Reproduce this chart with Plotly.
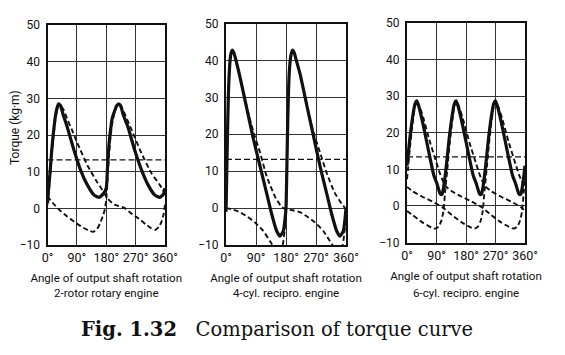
import plotly.graph_objects as go
from plotly.subplots import make_subplots

# ---------------- data ----------------
ANGLE_TICKS = [0, 90, 180, 270, 360]
ANGLE_LABELS = ["0°", "90°", "180°", "270°", "360°"]
TORQUE_TICKS = [-10, 0, 10, 20, 30, 40, 50]
TORQUE_LABELS = ["−10", "0", "10", "20", "30", "40", "50"]
MEAN_TORQUE = [13.2, 13.2, 13.4]
ENGINE_NAMES = ["2-rotor rotary engine", "4-cyl. recipro. engine", "6-cyl. recipro. engine"]

# 2-rotor rotary engine
ROT_TOTAL_DEG = [0, 3, 8, 13, 18, 24, 29, 34, 40, 48, 60, 81, 101, 122, 143, 158, 172, 180,
                 184, 188, 192, 198, 205, 212, 218, 224, 232, 246, 267, 288, 308, 329, 344, 355, 360]
ROT_TOTAL_TQ = [1.5, 5, 10, 15.9, 20.5, 25, 27.3, 28.5, 28, 25.5, 22.3, 15.9, 10.5, 6.4, 3.6, 3.0, 4.1, 5.5,
                11.4, 17, 20.5, 24.5, 26.4, 28, 28.5, 28, 25.5, 22.3, 15.9, 10.5, 6.4, 3.6, 3.0, 3.8, 5.5]
ROT_R1_DEG = [0, 3, 8, 13, 18, 24, 29, 34, 40, 50, 62, 75, 88, 101, 122, 148, 168, 184, 205,
              234, 260, 286, 300, 317, 330, 342, 350, 356, 360]
ROT_R1_TQ = [1, 3.5, 9, 14.5, 19.5, 24, 26.8, 28.2, 28, 26.8, 24, 21.4, 18.5, 15.9, 11.8, 7.7, 5, 2.7, 1.0,
             0.2, -1.6, -3.2, -4.3, -5.4, -5.9, -5.0, -3.5, -1.5, 1]
ROT_R2_DEG = [0, 15, 37, 60, 89, 110, 130, 140, 152, 161, 170, 175, 180, 184, 188, 192, 198, 205,
              212, 218, 226, 236, 250, 262, 288, 319, 344, 360]
ROT_R2_TQ = [3.3, 1.6, -0.5, -2.2, -4.1, -5.3, -6.2, -6.4, -5.6, -4.1, -2.0, -0.5, 2.3, 8, 14, 18.5, 23, 26,
             27.8, 28.2, 27.8, 25.9, 23, 20.5, 15, 9.5, 6.4, 4.1]

# 4-cyl. reciprocating engine
REC4_TOTAL_DEG = [0, 2, 4, 7, 10, 14, 19, 24, 30, 42, 62, 82, 102, 122, 137, 152, 162, 172, 177, 180,
                  182, 184, 187, 190, 195, 200, 205, 211, 222, 242, 262, 282, 302, 317, 332, 342, 352, 357, 360]
REC4_TOTAL_TQ = [-1, 8, 18, 30, 37, 41.5, 42.8, 42, 40, 35.5, 27.1, 18.8, 11.4, 4.0, -1.6, -6.2, -7.6, -6.2, -3, 0,
                 8, 18, 30, 37, 41.5, 42.8, 42, 40, 36.4, 28, 19.7, 11.4, 4.0, -1.6, -6.2, -7.6, -6.2, -3, 0]
REC4_A_DEG = [0, 2, 4, 7, 10, 14, 19, 24, 30, 42, 62, 82, 102, 122, 147, 167, 180, 200, 222, 245,
              267, 292, 312, 327, 340, 350, 356, 360]
REC4_A_TQ = [-1, 8, 18, 30, 37, 41.5, 42.8, 42, 40, 35.5, 27.5, 20.7, 15.1, 8.6, 3.1, 0.3, -0.3, -0.6, -1.1, -2.4,
             -3.9, -6.2, -9, -11, -12, -10, -6, -1]
REC4_B_DEG = [0, 20, 42, 65, 87, 112, 132, 147, 160, 170, 176, 180, 182, 184, 187, 190, 195, 200, 205,
              211, 222, 242, 262, 282, 302, 327, 347, 360]
REC4_B_TQ = [0, -0.4, -1.1, -2.4, -3.9, -6.2, -9, -11, -12, -10, -6, -1, 8, 18, 30, 37, 41.5, 42.8, 42,
             40, 36.4, 28, 20.7, 15.1, 9.5, 4.0, 1.2, -0.3]

# 6-cyl. reciprocating engine
REC6_TOTAL_DEG = [0, 3, 9, 17, 24, 30, 37, 50, 70, 82, 91, 97, 102, 107, 111, 117,
                  120, 123, 129, 137, 144, 150, 157, 170, 190, 202, 211, 217, 222, 227, 231, 237,
                  240, 243, 249, 257, 264, 270, 277, 290, 310, 322, 331, 337, 342, 347, 351, 357, 360]
REC6_TOTAL_TQ = [11, 13.5, 18.7, 24.2, 27.8, 28.7, 26.9, 21.9, 13.2, 8.3, 6.2, 4.4, 3.2, 3.2, 4.7, 8.6,
                 11, 13.5, 18.7, 24.2, 27.8, 28.7, 26.9, 21.9, 13.2, 8.3, 6.2, 4.4, 3.2, 3.2, 4.7, 8.6,
                 11, 13.5, 18.7, 24.2, 27.8, 28.7, 26.9, 21.9, 13.2, 8.3, 6.2, 4.4, 3.2, 3.2, 4.7, 8.6, 11]
REC6_C1_DEG = [0, 3, 9, 17, 24, 30, 37, 50, 70, 91, 102, 117, 137, 167, 197, 227, 257, 287, 317, 326,
               337, 345, 351, 357, 360]
REC6_C1_TQ = [7.3, 10, 16, 22.5, 27, 28.7, 27.5, 24, 17.5, 11.5, 8.5, 5.5, 4, 2.5, 1.2, -0.3, -2.5, -4.5, -6, -6.2,
              -5.6, -4.0, -1.5, 4.6, 7.3]
REC6_C2_DEG = [0, 17, 47, 77, 86, 97, 105, 111, 117, 123, 129, 137, 144, 150, 157, 170, 190, 211, 222,
               237, 257, 287, 317, 347, 360]
REC6_C2_TQ = [-1.4, -2.5, -4.5, -6, -6.2, -5.6, -4.0, -1.5, 4.6, 10, 16, 22.5, 27, 28.7, 27.5, 24, 17.5, 11.5, 8.5,
              5.5, 4, 2.5, 1.2, -0.3, -1.4]
REC6_C3_DEG = [0, 17, 47, 77, 107, 137, 167, 197, 206, 217, 225, 231, 237, 243, 249, 257, 264, 270, 277,
               290, 310, 331, 342, 357, 360]
REC6_C3_TQ = [5.2, 4, 2.5, 1.2, -0.3, -2.5, -4.5, -6, -6.2, -5.6, -4.0, -1.5, 4.6, 10, 16, 22.5, 27, 28.7, 27.5,
              24, 17.5, 11.5, 8.5, 5.5, 5.2]

PANELS = [
    dict(total=(ROT_TOTAL_DEG, ROT_TOTAL_TQ),
         parts=[(ROT_R1_DEG, ROT_R1_TQ), (ROT_R2_DEG, ROT_R2_TQ)]),
    dict(total=(REC4_TOTAL_DEG, REC4_TOTAL_TQ),
         parts=[(REC4_A_DEG, REC4_A_TQ), (REC4_B_DEG, REC4_B_TQ)]),
    dict(total=(REC6_TOTAL_DEG, REC6_TOTAL_TQ),
         parts=[(REC6_C1_DEG, REC6_C1_TQ), (REC6_C2_DEG, REC6_C2_TQ), (REC6_C3_DEG, REC6_C3_TQ)]),
]

# ---------------- layout / style ----------------
W, H = 565, 355
INK = "#111111"
NARROW = "Roboto, Liberation Sans, sans-serif"
X_DOMAINS_PX = [(47.5, 165), (226, 346), (407, 525)]
Y_DOMAINS_PX = [(25, 245), (23.5, 245), (23, 242.5)]
ENGINE_LABEL_Y_PX = 293

fig = make_subplots(rows=1, cols=3)

for i, p in enumerate(PANELS):
    r, c = 1, i + 1
    for deg, tq in p["parts"]:
        fig.add_trace(go.Scatter(x=deg, y=tq, mode="lines", showlegend=False, hoverinfo="skip",
                                 line=dict(color=INK, width=1.9, dash="5px,3px",
                                           shape="spline", smoothing=0.5)), row=r, col=c)
    deg, tq = p["total"]
    fig.add_trace(go.Scatter(x=deg, y=tq, mode="lines", showlegend=False, hoverinfo="skip",
                             line=dict(color=INK, width=3.2, shape="spline", smoothing=0.5)),
                  row=r, col=c)
    fig.add_hline(y=MEAN_TORQUE[i], line=dict(color=INK, width=1.2, dash="6px,3px"), row=r, col=c)

    x0, x1 = X_DOMAINS_PX[i]
    yt, yb = Y_DOMAINS_PX[i]
    fig.update_xaxes(domain=[x0 / W, x1 / W], range=[0, 360], tickvals=ANGLE_TICKS, ticktext=ANGLE_LABELS,
                     tickangle=0, showgrid=True, gridcolor="#333333", gridwidth=1, zeroline=False,
                     showline=True, linecolor=INK, linewidth=2, mirror=True, ticks="", ticklen=0,
                     automargin=False,
                     tickfont=dict(family=NARROW, size=12.5, color=INK),
                     title=dict(text="Angle of output shaft rotation",
                                font=dict(family=NARROW, size=11.6, color=INK), standoff=10),
                     fixedrange=True, row=r, col=c)
    fig.update_yaxes(domain=[1 - yb / H, 1 - yt / H], range=[-10, 50], tickvals=TORQUE_TICKS,
                     ticktext=TORQUE_LABELS, showgrid=True, gridcolor="#333333", gridwidth=1,
                     zeroline=False, showline=True, linecolor=INK, linewidth=2, mirror=True, ticks="",
                     ticklen=0, ticklabelstandoff=3, automargin=False,
                     tickfont=dict(family=NARROW, size=12, color=INK), fixedrange=True, row=r, col=c)
    fig.add_annotation(text=ENGINE_NAMES[i], xref="paper", yref="paper",
                       x=(x0 + x1) / 2 / W, y=1 - ENGINE_LABEL_Y_PX / H,
                       xanchor="center", yanchor="middle", showarrow=False,
                       font=dict(family=NARROW, size=11.6, color=INK))

fig.add_annotation(text="Torque (kg·m)", textangle=-90, xref="paper", yref="paper",
                   x=15 / W, y=1 - 128 / H, xanchor="center", yanchor="middle", showarrow=False,
                   font=dict(family=NARROW, size=12, color=INK))

fig.add_annotation(text="<b>Fig. 1.32</b>&nbsp;&nbsp;&nbsp;Comparison of torque curve",
                   xref="paper", yref="paper",
                   x=277 / W, y=1 - 329 / H, xanchor="center", yanchor="middle", showarrow=False,
                   font=dict(family="DejaVu Serif, Liberation Serif, serif", size=19.5, color=INK))

fig.update_layout(width=W, height=H, margin=dict(l=0, r=0, t=0, b=0, autoexpand=False), autosize=False,
                  paper_bgcolor="white", plot_bgcolor="white", showlegend=False)

fig.write_html("out.html", config={"displayModeBar": False},
               post_script="document.body.style.margin='0';")
